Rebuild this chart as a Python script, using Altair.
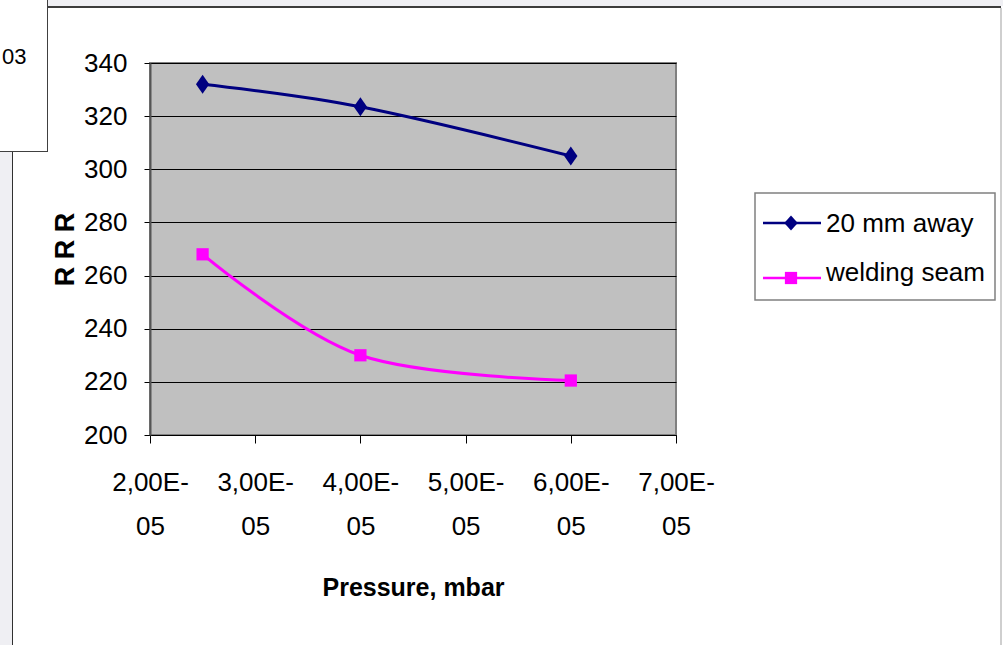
import altair as alt
import pandas as pd

# ---- data ----
series_names = ["20 mm away", "welding seam"]
pressure = [2.5e-5, 4.0e-5, 6.0e-5]
rrr_away = [332, 323.5, 305]
rrr_weld = [268, 230, 220.5]
x_ticks = [2e-5, 3e-5, 4e-5, 5e-5, 6e-5, 7e-5]
y_ticks = [200, 220, 240, 260, 280, 300, 320, 340]
colors = ["#000080", "#ff00ff"]
marker_shapes = ["M-0.7,0L0,-1L0.7,0L0,1Z", "square"]
marker_sizes = [361, 150]
legend_marker_shapes = ["M-0.9,0L0,-1L0.9,0L0,1Z", "square"]
legend_marker_sizes = [225, 150]

rows = []
for p, v in zip(pressure, rrr_away):
    rows.append({"p": p, "rrr": v, "series": series_names[0]})
for p, v in zip(pressure, rrr_weld):
    rows.append({"p": p, "rrr": v, "series": series_names[1]})
df = pd.DataFrame(rows)
legend_df = pd.DataFrame({"series": series_names})

FONT = "Liberation Sans, Arial, sans-serif"

x_enc = alt.X(
    "p:Q",
    scale=alt.Scale(domain=[2e-5, 7e-5], nice=False, zero=False),
    axis=alt.Axis(
        values=x_ticks,
        title="Pressure, mbar",
        grid=False,
        labelExpr="[replace(format(datum.value*1e5, '.2f'), '.', ',') + 'E-', '05']",
        labelFont=FONT, labelFontSize=26, labelLineHeight=44, labelPadding=26,
        labelColor="black", labelFlush=False, labelOverlap=False,
        tickSize=8, tickColor="black", domainColor="black", domainWidth=1,
        titleFont=FONT, titleFontSize=25, titleFontWeight="bold", titleColor="black",
        titleX=263, titleY=152, titleBaseline="middle", titleAlign="center",
    ),
)
y_scale = alt.Scale(domain=[200, 340], nice=False, zero=False)
y_enc = alt.Y(
    "rrr:Q",
    scale=y_scale,
    axis=alt.Axis(
        values=y_ticks,
        title="R R R",
        grid=True, gridColor="black", gridWidth=1, gridOpacity=1,
        labelFont=FONT, labelFontSize=26, labelPadding=17, labelColor="black",
        tickSize=6, tickColor="black", domainColor="#555555", domainWidth=2,
        titleFont=FONT, titleFontSize=27, titleFontWeight="bold", titleColor="black",
        titleX=-85, titleY=186, titleBaseline="middle", titleAlign="center", titleAngle=270,
    ),
)

color_enc = alt.Color("series:N", scale=alt.Scale(domain=series_names, range=colors), legend=None)

lines = alt.Chart(df).mark_line(strokeWidth=3, interpolate="cardinal").encode(
    x=x_enc, y=y_enc, color=color_enc, detail="series:N"
)
point_layers = []
for name, shp, sz in zip(series_names, marker_shapes, marker_sizes):
    point_layers.append(
        alt.Chart(df).transform_filter(alt.datum.series == name).mark_point(
            filled=True, opacity=1, shape=shp, size=sz
        ).encode(x="p:Q", y="rrr:Q", color=color_enc)
    )
main = alt.layer(lines, *point_layers)

# ---- legend (drawn from the series list) ----
one = alt.Data(values=[{"k": 1}])
leg_box = alt.Chart(one).mark_rect(fill="white", stroke="#808080", strokeWidth=1.5).encode(
    x=alt.value(605), x2=alt.value(845), y=alt.value(130), y2=alt.value(237)
)
leg_row = alt.Scale(type="point", domain=series_names, range=[160, 215], padding=0)
leg_lines = alt.Chart(legend_df).mark_rule(strokeWidth=2.5).encode(
    x=alt.value(613), x2=alt.value(671),
    y=alt.Y("series:N", scale=leg_row, axis=None),
    color=color_enc,
)
leg_points = alt.Chart(legend_df).mark_point(filled=True, opacity=1).encode(
    x=alt.value(641),
    y=alt.Y("series:N", scale=leg_row, axis=None),
    color=color_enc,
    shape=alt.Shape("series:N", scale=alt.Scale(domain=series_names, range=legend_marker_shapes), legend=None),
    size=alt.Size("series:N", scale=alt.Scale(domain=series_names, range=legend_marker_sizes), legend=None),
)
leg_text = alt.Chart(legend_df).mark_text(
    font=FONT, fontSize=26, align="left", baseline="alphabetic", color="black"
).encode(
    x=alt.value(676),
    y=alt.Y("series:N", scale=alt.Scale(type="point", domain=series_names, range=[169, 218], padding=0), axis=None),
    text="series:N",
)
legend_layer = alt.layer(leg_box, leg_lines, leg_points, leg_text).resolve_scale(y="independent")

# ---- page decorations around the chart (screenshot frame) ----
def rect(x1, x2, y1, y2, fill):
    return alt.Chart(one).mark_rect(color=fill).encode(
        x=alt.value(x1 - 150), x2=alt.value(x2 - 150),
        y=alt.value(y1 - 63), y2=alt.value(y2 - 63),
    )

deco = [
    rect(47, 1003, 0, 6, "#efeff3"),
    rect(47, 1001, 6, 8, "#3c3c3c"),
    rect(0, 12, 152, 645, "#efeff3"),
    rect(12, 13, 152, 645, "#303030"),
    rect(47, 48, 0, 152, "#404040"),
    rect(0, 48, 151, 152, "#404040"),
    rect(1000, 1002, 8, 645, "#cfcfcf"),
]
frag_text = alt.Chart(one).mark_text(
    text="03", font=FONT, fontSize=22, align="left", baseline="middle", color="black"
).encode(x=alt.value(2 - 150), y=alt.value(57 - 63))

chart = alt.layer(main, legend_layer, *deco, frag_text).resolve_scale(
    y="independent"
).properties(
    width=526, height=372,
    autosize=alt.AutoSizeParams(type="none"),
    padding={"left": 150, "top": 63, "right": 327, "bottom": 210},
    background="white",
).configure_view(
    fill="#c0c0c0", stroke="#808080", strokeWidth=2
)

chart.save("out.html", embed_options={"renderer": "svg", "actions": False})
